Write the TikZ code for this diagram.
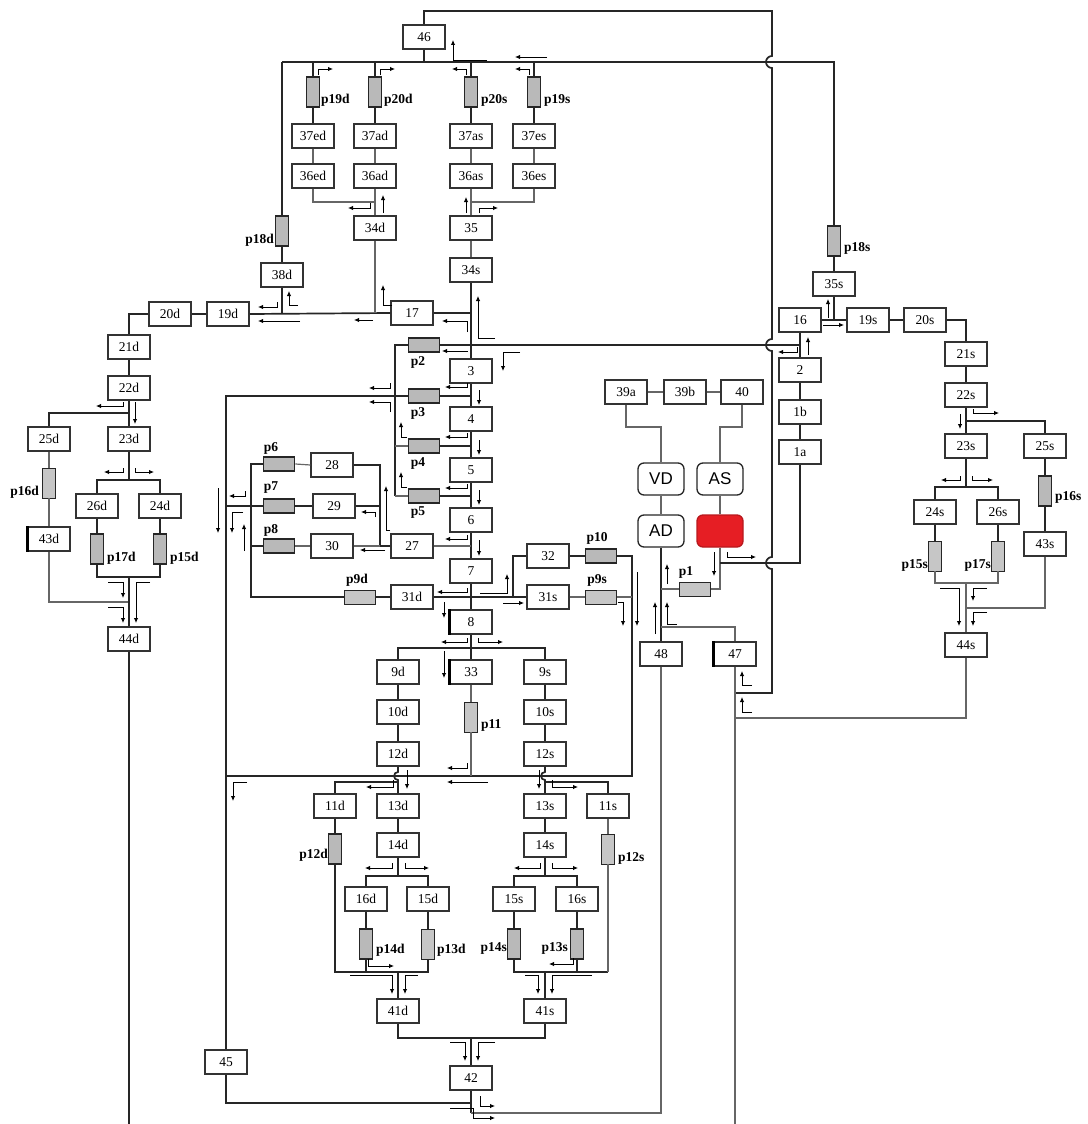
\documentclass[tikz,border=0pt]{standalone}
\usepackage{fontspec}
\setmainfont{Liberation Serif}
\newfontfamily\chsans{Liberation Sans}
\usetikzlibrary{arrows.meta, calc}
\definecolor{pumpred}{RGB}{230,30,36}

\begin{document}
\begin{tikzpicture}[x=1pt, y=-1pt,
  blk/.style  = {draw=black!80, fill=white, line width=1.1pt,
                 minimum width=42pt, minimum height=24pt, inner sep=0pt,
                 font=\fontsize{13.5}{14}\selectfont},
  blkb/.style = {blk, line width=1.8pt},
  chb/.style  = {draw=black!85, fill=white, rounded corners=6pt,
                 line width=1.3pt, minimum width=46pt, minimum height=32pt,
                 inner sep=0pt, font=\chsans\fontsize{17}{18}\selectfont},
  vv/.style   = {draw=black!85, fill=gray!55, line width=1.7pt,
                 minimum width=13pt, minimum height=30pt, inner sep=0pt},
  vvl/.style  = {vv, line width=0.9pt, fill=gray!45},
  hv/.style   = {vv, minimum width=31pt, minimum height=14pt},
  hvl/.style  = {hv, line width=0.9pt, fill=gray!45},
  lbl/.style  = {font=\bfseries\fontsize{13.5}{14}\selectfont, inner sep=0pt},
  lnk/.style  = {draw=black!85, line width=1.7pt},
  thn/.style  = {draw=black!60, line width=1.2pt},
  fl/.style   = {-{Latex[length=5pt,width=4.5pt]}, line width=0.9pt},
  lborder/.style = {line width=2.6pt},
]
\useasboundingbox (0,0) rectangle (1087,1124);

%% -- top ring ---------------------------------------------------------------
\node[blkb] (n46)  at (424,37)  {46};
\node[vv]   (vp19d) at (313,92) {};
\node[vv]   (vp20d) at (375,92) {};
\node[vv]   (vp20s) at (471,92) {};
\node[vv]   (vp19s) at (534,92) {};
\node[lbl, anchor=west] (lp19d) at (321,100) {p19d};
\node[lbl, anchor=west] (lp20d) at (384,100) {p20d};
\node[lbl, anchor=west] (lp20s) at (481,100) {p20s};
\node[lbl, anchor=west] (lp19s) at (544,100) {p19s};

\node[blk] (n37ed) at (313,136) {37ed};
\node[blk] (n37ad) at (375,136) {37ad};
\node[blk] (n37as) at (471,136) {37as};
\node[blk] (n37es) at (534,136) {37es};
\node[blk] (n36ed) at (313,176) {36ed};
\node[blk] (n36ad) at (375,176) {36ad};
\node[blk] (n36as) at (471,176) {36as};
\node[blk] (n36es) at (534,176) {36es};
\node[blkb] (n34d) at (375,228) {34d};
\node[blkb] (n35)  at (471,228) {35};
\node[blkb] (n34s) at (471,270) {34s};

\node[vv]  (vp18d) at (282,231) {};
\node[lbl, anchor=east] (lp18d) at (274,240) {p18d};
\node[blkb] (n38d) at (282,275) {38d};
\node[blk] (n17)  at (412,313) {17};

%% -- left (d) branch --------------------------------------------------------
\node[blk]  (n20d) at (170,314) {20d};
\node[blkb] (n19d) at (228,314) {19d};
\node[blk]  (n21d) at (129,347) {21d};
\node[blk]  (n22d) at (129,388) {22d};
\node[blk]  (n23d) at (129,439) {23d};
\node[blk]  (n25d) at (49,439)  {25d};
\node[vvl]  (vp16d) at (49,483) {};
\node[lbl, anchor=east] (lp16d) at (39,492) {p16d};
\node[blk]  (n43d) at (49,539)  {43d};
\node[blk]  (n26d) at (97,506)  {26d};
\node[blk]  (n24d) at (160,506) {24d};
\node[vv]   (vp17d) at (97,549) {};
\node[vv]   (vp15d) at (160,549) {};
\node[lbl, anchor=west] (lp17d) at (107,558) {p17d};
\node[lbl, anchor=west] (lp15d) at (170,558) {p15d};
\node[blkb] (n44d) at (129,639) {44d};

%% -- central column ---------------------------------------------------------
\node[hv] (vp2) at (424,345) {};
\node[hv] (vp3) at (424,396) {};
\node[hv] (vp4) at (424,446) {};
\node[hv] (vp5) at (424,496) {};
\node[lbl] (lp2) at (418,362) {p2};
\node[lbl] (lp3) at (418,413) {p3};
\node[lbl] (lp4) at (418,463) {p4};
\node[lbl] (lp5) at (418,513) {p5};
\node[blkb] (n3) at (471,371) {3};
\node[blkb] (n4) at (471,419) {4};
\node[blk]  (n5) at (471,470) {5};
\node[blk]  (n6) at (471,520) {6};
\node[blk]  (n7) at (471,571) {7};
\node[blk]  (n8) at (471,622) {8};

\node[hv] (vp6) at (279,464) {};
\node[hv] (vp7) at (279,506) {};
\node[hv] (vp8) at (279,546) {};
\node[lbl] (lp6) at (271,448) {p6};
\node[lbl] (lp7) at (271,488) {p7};
\node[lbl] (lp8) at (271,530) {p8};
\node[blk] (n28) at (332,465) {28};
\node[blk] (n29) at (334,506) {29};
\node[blk] (n30) at (332,546) {30};
\node[blk] (n27) at (412,546) {27};

\node[hvl] (vp9d) at (360,597) {};
\node[lbl] (lp9d) at (357,580) {p9d};
\node[blk] (n31d) at (412,597) {31d};
\node[blk] (n31s) at (548,597) {31s};
\node[blkb] (n32) at (548,556) {32};
\node[hv]  (vp10) at (601,556) {};
\node[hvl] (vp9s) at (601,597) {};
\node[lbl] (lp10) at (597,538) {p10};
\node[lbl] (lp9s) at (597,580) {p9s};

\node[blk] (n9d)  at (398,672) {9d};
\node[blk] (n33)  at (471,672) {33};
\node[blk] (n9s)  at (545,672) {9s};
\node[blk] (n10d) at (398,712) {10d};
\node[vvl] (vp11) at (471,717) {};
\node[lbl, anchor=west] (lp11) at (481,725) {p11};
\node[blk] (n10s) at (545,712) {10s};
\node[blk] (n12d) at (398,754) {12d};
\node[blk] (n12s) at (545,754) {12s};

\node[blk] (n11d) at (335,806) {11d};
\node[blk] (n13d) at (398,806) {13d};
\node[blk] (n13s) at (545,806) {13s};
\node[blk] (n11s) at (608,806) {11s};
\node[blk] (n14d) at (398,845) {14d};
\node[blk] (n14s) at (545,845) {14s};
\node[vv]  (vp12d) at (335,849) {};
\node[vvl] (vp12s) at (608,849) {};
\node[lbl, anchor=east] (lp12d) at (328,855) {p12d};
\node[lbl, anchor=west] (lp12s) at (618,858) {p12s};

\node[blkb] (n16d) at (366,899) {16d};
\node[blkb] (n15d) at (428,899) {15d};
\node[blkb] (n15s) at (514,899) {15s};
\node[blkb] (n16s) at (577,899) {16s};
\node[vv]  (vp14d) at (366,944) {};
\node[vvl] (vp13d) at (428,944) {};
\node[vv]  (vp14s) at (514,944) {};
\node[vv]  (vp13s) at (577,944) {};
\node[lbl, anchor=west] (lp14d) at (376,950) {p14d};
\node[lbl, anchor=west] (lp13d) at (437,950) {p13d};
\node[lbl, anchor=east] (lp14s) at (507,948) {p14s};
\node[lbl, anchor=east] (lp13s) at (568,948) {p13s};

\node[blk]  (n41d) at (398,1011) {41d};
\node[blk]  (n41s) at (545,1011) {41s};
\node[blkb] (n42)  at (471,1078) {42};
\node[blk]  (n45)  at (226,1062) {45};

%% -- heart / pump side ------------------------------------------------------
\node[blk] (n39a) at (626,392) {39a};
\node[blk] (n39b) at (685,392) {39b};
\node[blk] (n40)  at (742,392) {40};
\node[chb] (nVD)  at (661,479) {VD};
\node[chb] (nAS)  at (720,479) {AS};
\node[chb] (nAD)  at (661,531) {AD};
\node[chb, fill=pumpred, draw=pumpred!80!black] (nRed) at (720,531) {};
\node[hvl] (vp1) at (695,589) {};
\node[lbl] (lp1) at (686,572) {p1};
\node[blk] (n48) at (661,654) {48};
\node[blk] (n47) at (735,654) {47};

\node[blk] (n1a) at (800,452) {1a};
\node[blk] (n1b) at (800,412) {1b};
\node[blk] (n2)  at (800,370) {2};
\node[blk] (n16) at (800,320) {16};

%% -- right (s) branch -------------------------------------------------------
\node[vv]  (vp18s) at (834,241) {};
\node[lbl, anchor=west] (lp18s) at (844,248) {p18s};
\node[blk] (n35s) at (834,284) {35s};
\node[blk] (n19s) at (868,320) {19s};
\node[blk] (n20s) at (925,320) {20s};
\node[blk] (n21s) at (966,354) {21s};
\node[blk] (n22s) at (966,395) {22s};
\node[blkb] (n23s) at (966,446) {23s};
\node[blk] (n25s) at (1045,446) {25s};
\node[vv]  (vp16s) at (1045,491) {};
\node[lbl, anchor=west] (lp16s) at (1055,497) {p16s};
\node[blk] (n43s) at (1045,544) {43s};
\node[blk] (n24s) at (935,512) {24s};
\node[blk] (n26s) at (998,512) {26s};
\node[vvl] (vp15s) at (935,556) {};
\node[vvl] (vp17s) at (998,556) {};
\node[lbl, anchor=east] (lp15s) at (928,565) {p15s};
\node[lbl, anchor=east] (lp17s) at (991,565) {p17s};
\node[blkb] (n44s) at (966,645) {44s};

%% heavy left edges
\draw[lborder] (n43d.north west) -- (n43d.south west);
\draw[lborder] (n8.north west) -- (n8.south west);
\draw[lborder] (n33.north west) -- (n33.south west);
\draw[lborder] (n47.north west) -- (n47.south west);

%% -- connectors: top ----------------------------------------------------------
\coordinate (tA) at (282,62);
\coordinate (tB) at (834,62);
\draw[lnk] (n46.north) |- (772,11) -- (772,56)
  arc[start angle=270, end angle=90, radius=6] -- (772,339)
  arc[start angle=270, end angle=90, radius=6] -- (772,557)
  arc[start angle=270, end angle=90, radius=6] -- (772,693)
  -- (n47.south |- 0,693);
\draw[lnk] (tA) -- (tB) -- (vp18s.north);
\draw[lnk] (n46.south) -- (n46.south |- tA);
\draw[lnk] (vp19d.north |- tA) -- (vp19d.north);
\draw[lnk] (vp20d.north |- tA) -- (vp20d.north);
\draw[lnk] (vp20s.north |- tA) -- (vp20s.north);
\draw[lnk] (vp19s.north |- tA) -- (vp19s.north);
\draw[lnk] (vp19d.south) -- (n37ed.north);
\draw[lnk] (vp20d.south) -- (n37ad.north);
\draw[lnk] (vp20s.south) -- (n37as.north);
\draw[lnk] (vp19s.south) -- (n37es.north);
\draw[thn] (n37ed.south) -- (n36ed.north);
\draw[thn] (n37ad.south) -- (n36ad.north);
\draw[thn] (n37as.south) -- (n36as.north);
\draw[thn] (n37es.south) -- (n36es.north);
\draw[thn] (n36ed.south) |- (n36ad.south |- 0,202);
\draw[thn] (n36ad.south) -- (n34d.north);
\draw[thn] (n36es.south) |- (n36as.south |- 0,202);
\draw[thn] (n36as.south) -- (n35.north);
\draw[thn] (n35.south) -- (n34s.north);
\draw[lnk] (tA) -- (vp18d.north);
\draw[lnk] (vp18d.south) -- (n38d.north);
\draw[lnk] (n38d.south) -- (n38d.south |- n17);
\draw[lnk] (n19d.east) -- (n17.west);
\draw[lnk] (n17.east) -- (n17.east -| n34s);
\draw[thn] (n34d.south) -- (n34d.south |- n17);
\draw[lnk] (n34s.south) -- (n3.north);

%% -- connectors: left branch -----------------------------------------------
\draw[lnk] (n19d.west) -- (n20d.east);
\draw[lnk] (n20d.west) -| (n21d.north);
\draw[lnk] (n21d.south) -- (n22d.north);
\draw[lnk] (n22d.south) -- (n23d.north);
\draw[lnk] (n22d.south |- 0,413) -| (n25d.north);
\draw[thn] (n25d.south) -- (vp16d.north);
\draw[thn] (vp16d.south) -- (n43d.north);
\draw[thn] (n43d.south) |- (n44d.north |- 0,602);
\draw[lnk] (n23d.south) -- (n23d.south |- 0,480);
\draw[lnk] (n26d.north) |- (n24d.north |- 0,480) -- (n24d.north);
\draw[lnk] (n26d.south) -- (vp17d.north);
\draw[lnk] (n24d.south) -- (vp15d.north);
\draw[lnk] (vp17d.south) |- (vp15d.south |- 0,577) -- (vp15d.south);
\draw[lnk] (n23d.south |- 0,577) -- (n44d.north);
\draw[lnk] (n44d.south) -- (n44d.south |- 0,1124);

%% -- connectors: centre ------------------------------------------------------
\draw[lnk] (395,496) -- (395,345) -- (vp2.west);
\draw[lnk] (vp2.east) -- (n16.south |- vp2);
\draw[lnk] (vp3.west) -| (n45.north);
\draw[lnk] (vp3.east) -- (vp3.east -| n3);
\draw[thn] (395,446) -- (vp4.west);
\draw[lnk] (vp4.east) -- (vp4.east -| n4);
\draw[thn] (395,496) -- (vp5.west);
\draw[lnk] (vp5.east) -- (vp5.east -| n5);
\draw[lnk] (n3.south) -- (n4.north);
\draw[lnk] (n4.south) -- (n5.north);
\draw[lnk] (n5.south) -- (n6.north);
\draw[lnk] (n6.south) -- (n7.north);
\draw[lnk] (n7.south) -- (n8.north);

\coordinate (c380) at (380,546);
\draw[lnk] (vp6.west) -| (251,597) -- (vp9d.west);
\draw[lnk] (vp8.west) -- (vp8.west -| 251,0);
\draw[lnk] (n45.north |- vp7) -- (vp7.west);
\draw[thn] (vp6.east) -- (n28.west);
\draw[lnk] (vp7.east) -- (n29.west);
\draw[thn] (vp8.east) -- (n30.west);
\draw[lnk] (n28.east) -| (c380) -- (n27.west);
\draw[lnk] (n29.east) -- (n29.east -| c380);
\draw[thn] (n30.east) -- (c380);
\draw[thn] (n27.east) -- (n27.east -| n6);

\draw[lnk] (vp9d.east) -- (n31d.west);
\draw[lnk] (n31d.east) -- (n31s.west);
\draw[lnk] (n31d.east -| 513,0) |- (n32.west);
\draw[lnk] (n32.east) -- (vp10.west);
\draw[lnk] (vp10.east) -| (632,776) -- (n45.north |- 0,776);
\draw[thn] (n31s.east) -- (vp9s.west);
\draw[thn] (vp9s.east) -- (632,597);

\draw[lnk] (n8.south) -- (n33.north);
\draw[lnk] (n9d.north) |- (n9s.north |- 0,648) -- (n9s.north);
\draw[lnk] (n9d.south) -- (n10d.north);
\draw[lnk] (n10d.south) -- (n12d.north);
\draw[lnk] (n9s.south) -- (n10s.north);
\draw[lnk] (n10s.south) -- (n12s.north);
\draw[thn] (n33.south) -- (vp11.north);
\draw[thn] (vp11.south) -- (vp11.south |- 0,776);

\draw[lnk] (n12d.south) -- (398,772)
  arc[start angle=270, end angle=90, radius=4] -- (n13d.north);
\draw[lnk] (n11d.north) |- (n13d.north |- 0,782);
\draw[lnk] (n12s.south) -- (545,772)
  arc[start angle=270, end angle=90, radius=4] -- (n13s.north);
\draw[lnk] (n11s.north) |- (n13s.north |- 0,782);

\draw[lnk] (n13d.south) -- (n14d.north);
\draw[lnk] (n14d.south) -- (n14d.south |- 0,876);
\draw[lnk] (n16d.north) |- (n15d.north |- 0,876) -- (n15d.north);
\draw[lnk] (n16d.south) -- (vp14d.north);
\draw[lnk] (n15d.south) -- (vp13d.north);
\draw[lnk] (n11d.south) -- (vp12d.north);
\draw[lnk] (vp12d.south) |- (vp13d.south |- 0,972) -- (vp13d.south);
\draw[lnk] (vp14d.south) -- (vp14d.south |- 0,972);
\draw[lnk] (n41d.north |- 0,972) -- (n41d.north);

\draw[lnk] (n13s.south) -- (n14s.north);
\draw[lnk] (n14s.south) -- (n14s.south |- 0,876);
\draw[lnk] (n15s.north) |- (n16s.north |- 0,876) -- (n16s.north);
\draw[lnk] (n15s.south) -- (vp14s.north);
\draw[lnk] (n16s.south) -- (vp13s.north);
\draw[thn] (n11s.south) -- (vp12s.north);
\draw[lnk] (vp14s.south) |- (vp12s.south |- 0,972);
\draw[thn] (vp12s.south) -- (vp12s.south |- 0,972);
\draw[lnk] (vp13s.south) -- (vp13s.south |- 0,972);
\draw[lnk] (n41s.north |- 0,972) -- (n41s.north);

\draw[lnk] (n41d.south) |- (n41s.south |- 0,1038) -- (n41s.south);
\draw[lnk] (n42.north |- 0,1038) -- (n42.north);
\draw[lnk] (n45.south) |- (n42.south |- 0,1103);
\draw[lnk] (n42.south) -- (n42.south |- 0,1113);
\draw[thn] (n48.south) |- (n42.south |- 0,1113);

%% -- connectors: heart side -------------------------------------------------
\draw[thn] (n39a.east) -- (n39b.west);
\draw[thn] (n39b.east) -- (n40.west);
\draw[thn] (n39a.south) |- (nVD.north |- 0,427) -- (nVD.north);
\draw[thn] (n40.south) |- (nAS.north |- 0,427) -- (nAS.north);
\draw[thn] (nVD.south) -- (nAD.north);
\draw[thn] (nAS.south) -- (nRed.north);
\draw[lnk] (nAD.south) -- (n48.north);
\draw[thn] (nAD.south |- vp1) -- (vp1.west);
\draw[thn] (vp1.east) -| (nRed.south);
\draw[lnk] (nRed.south |- 0,563) -| (n1a.south);
\draw[thn] (n47.north) |- (nAD.south |- 0,627);
\draw[thn] (n47.south) -- (n47.south |- 0,1124);
\draw[thn] (n44s.south) |- (n47.south |- 0,718);

\draw[lnk] (n1a.north) -- (n1b.south);
\draw[lnk] (n1b.north) -- (n2.south);
\draw[lnk] (n2.north) -- (n16.south);
\draw[lnk] (n16.east) -- (n19s.west);
\draw[lnk] (vp18s.south) -- (n35s.north);
\draw[lnk] (n35s.south) -- (n35s.south |- n16);

%% -- connectors: right branch ----------------------------------------------
\draw[lnk] (n19s.east) -- (n20s.west);
\draw[lnk] (n20s.east) -| (n21s.north);
\draw[lnk] (n21s.south) -- (n22s.north);
\draw[lnk] (n22s.south) -- (n23s.north);
\draw[lnk] (n22s.south |- 0,421) -| (n25s.north);
\draw[lnk] (n25s.south) -- (vp16s.north);
\draw[lnk] (vp16s.south) -- (n43s.north);
\draw[thn] (n43s.south) |- (n44s.north |- 0,608);
\draw[lnk] (n23s.south) -- (n23s.south |- 0,487);
\draw[lnk] (n24s.north) |- (n26s.north |- 0,487) -- (n26s.north);
\draw[lnk] (n24s.south) -- (vp15s.north);
\draw[lnk] (n26s.south) -- (vp17s.north);
\draw[thn] (vp15s.south) |- (vp17s.south |- 0,583) -- (vp17s.south);
\draw[thn] (n44s.north |- 0,583) -- (n44s.north);

%% -- flow arrows -------------------------------------------------------------
% top ring
\draw[fl] (318,75) -- (318,69) -- (333,69);
\draw[fl] (380,75) -- (380,69) -- (395,69);
\draw[fl] (466,75) -- (466,69) -- (452,69);
\draw[fl] (529,75) -- (529,69) -- (515,69);
\draw[fl] (547,57) -- (515,57);
\draw[fl] (487,60) -- (453,60) -- (453,40);
\draw[fl] (370,203) -- (370,208) -- (348,208);
\draw[fl] (383,213) -- (383,195);
\draw[fl] (466,213) -- (466,197);
\draw[fl] (479,213) -- (479,208) -- (498,208);
% 17 row
\draw[fl] (277,302) -- (277,307) -- (258,307);
\draw[fl] (300,321) -- (258,321);
\draw[fl] (298,305) -- (289,305) -- (289,291);
\draw[fl] (373,320) -- (354,320);
\draw[fl] (392,305) -- (383,305) -- (383,285);
\draw[fl] (467,332) -- (467,321) -- (442,321);
\draw[fl] (495,338) -- (478,338) -- (478,296);
% p2 .. 7
\draw[fl] (468,351) -- (442,351);
\draw[fl] (520,352) -- (503,352) -- (503,371);
\draw[fl] (797,347) -- (797,352) -- (778,352);
\draw[fl] (808,355) -- (808,337);
\draw[fl] (467,383) -- (467,387) -- (445,387);
\draw[fl] (467,433) -- (467,437) -- (445,437);
\draw[fl] (467,484) -- (467,488) -- (445,488);
\draw[fl] (467,535) -- (467,539) -- (445,539);
\draw[fl] (479,390) -- (479,405);
\draw[fl] (479,440) -- (479,455);
\draw[fl] (479,490) -- (479,505);
\draw[fl] (479,540) -- (479,556);
\draw[fl] (390,383) -- (390,388) -- (369,388);
\draw[fl] (390,412) -- (390,402) -- (369,402);
\draw[fl] (407,437) -- (401,437) -- (401,422);
\draw[fl] (407,487) -- (401,487) -- (401,472);
% p6 .. p9d
\draw[fl] (218,488) -- (218,533);
\draw[fl] (245,491) -- (245,496) -- (229,496);
\draw[fl] (243,512) -- (232,512) -- (232,533);
\draw[fl] (244,551) -- (244,524);
\draw[fl] (390,530) -- (386,530) -- (386,486);
\draw[fl] (375,517) -- (375,512) -- (361,512);
\draw[fl] (385,550) -- (360,550);
\draw[fl] (467,588) -- (467,592) -- (437,592);
\draw[fl] (444,602) -- (444,618);
\draw[fl] (480,593) -- (507,593) -- (507,574);
\draw[fl] (503,603) -- (524,603);
\draw[fl] (637,572) -- (637,626);
\draw[fl] (618,602) -- (623,602) -- (623,626);
% p1, 48
\draw[fl] (667,584) -- (667,564);
\draw[fl] (714,552) -- (714,576);
\draw[fl] (727,552) -- (727,557) -- (756,557);
\draw[fl] (655,634) -- (655,602);
\draw[fl] (677,624) -- (667,624) -- (667,602);
% 8 .. 12
\draw[fl] (467,638) -- (467,642) -- (441,642);
\draw[fl] (478,638) -- (478,642) -- (503,642);
\draw[fl] (444,651) -- (444,678);
\draw[fl] (467,763) -- (467,768) -- (447,768);
\draw[fl] (488,782) -- (447,782);
\draw[fl] (393,780) -- (393,787) -- (366,787);
\draw[fl] (407,770) -- (407,789);
\draw[fl] (539,770) -- (539,789);
\draw[fl] (552,780) -- (552,787) -- (578,787);
\draw[fl] (247,782) -- (233,782) -- (233,801);
% 14 .. 42
\draw[fl] (392,863) -- (392,868) -- (365,868);
\draw[fl] (405,863) -- (405,868) -- (429,868);
\draw[fl] (540,863) -- (540,868) -- (514,868);
\draw[fl] (552,863) -- (552,868) -- (578,868);
\draw[fl] (368,959) -- (368,966) -- (394,966);
\draw[fl] (573,958) -- (573,964) -- (549,964);
\draw[fl] (350,975) -- (392,975) -- (392,994);
\draw[fl] (418,975) -- (405,975) -- (405,994);
\draw[fl] (525,975) -- (538,975) -- (538,994);
\draw[fl] (592,975) -- (552,975) -- (552,994);
\draw[fl] (450,1042) -- (465,1042) -- (465,1061);
\draw[fl] (495,1042) -- (478,1042) -- (478,1061);
\draw[fl] (480,1096) -- (480,1106) -- (495,1106);
\draw[fl] (450,1108) -- (473,1108) -- (473,1118) -- (495,1118);
% left branch
\draw[fl] (123,402) -- (123,406) -- (96,406);
\draw[fl] (135,402) -- (135,424);
\draw[fl] (123,468) -- (123,472) -- (104,472);
\draw[fl] (135,468) -- (135,472) -- (154,472);
\draw[fl] (108,582) -- (123,582) -- (123,598);
\draw[fl] (108,607) -- (123,607) -- (123,623);
\draw[fl] (150,582) -- (136,582) -- (136,623);
% right branch
\draw[fl] (828,318) -- (828,299);
\draw[fl] (823,325) -- (844,325);
\draw[fl] (973,409) -- (973,413) -- (999,413);
\draw[fl] (960,414) -- (960,429);
\draw[fl] (960,476) -- (960,480) -- (941,480);
\draw[fl] (972,476) -- (972,480) -- (993,480);
\draw[fl] (940,588) -- (959,588) -- (959,626);
\draw[fl] (987,588) -- (973,588) -- (973,601);
\draw[fl] (987,612) -- (973,612) -- (973,626);
\draw[fl] (752,685) -- (742,685) -- (742,671);
\draw[fl] (752,712) -- (742,712) -- (742,697);

\end{tikzpicture}
\end{document}
